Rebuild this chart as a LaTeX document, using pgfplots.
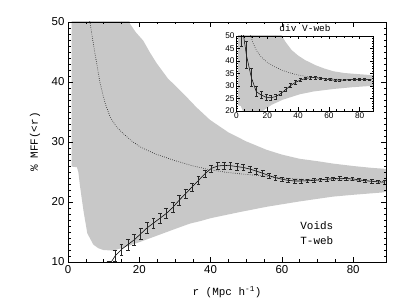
\documentclass[border=0pt]{standalone}
\usepackage{fontspec}
\setmainfont{Liberation Mono}
\setsansfont{Liberation Sans}
\usepackage{pgfplots}
\pgfplotsset{compat=1.18}
\definecolor{band}{RGB}{200,200,200}
\pgfplotsset{
  idl/.style={
    scale only axis, anchor=south west, tick align=inside, axis on top,
    axis line style={line width=0.7pt},
    every tick/.style={black, line width=0.5pt},
    /pgf/number format/assume math mode=true,
    clip=true,
  },
  dotline/.style={black!85, line width=0.65pt, dash pattern=on 0.65pt off 1.5pt},
  meanline/.style={black, line width=0.55pt, mark=none,
    error bars/y dir=both, error bars/y explicit,
    error bars/error bar style={line width=0.5pt, black!85},
    error bars/error mark=-,
    error bars/error mark options={rotate=90, line width=0.5pt, black!85, mark size=#1}},
  meanline/.default=1.9bp,
}
\begin{document}
\begin{tikzpicture}[x=1bp,y=1bp]
\useasboundingbox (0,0) rectangle (407,306);
% ---------------- main axis ----------------
\begin{axis}[idl, at={(68bp,44bp)}, width=318bp, height=240bp,
  xmin=0, xmax=89.2, ymin=10, ymax=50,
  xtick={0,20,...,80}, ytick={10,20,...,50},
  minor x tick num=3, minor y tick num=9,
  major tick length=5bp, minor tick length=2.5bp,
  ticklabel style={font=\sffamily\fontsize{11.5}{12}\selectfont},
  xlabel={r (Mpc h\textsuperscript{-1})}, ylabel={\% MFF(<r)},
  label style={font=\fontsize{11}{12}\selectfont},
  xlabel style={at={(axis description cs:0.5,-0.125)}, anchor=center},
  ylabel style={at={(axis description cs:-0.104,0.5)}, anchor=center},
]
\addplot[draw=none, fill=band] coordinates {
 (1,51) (17.0,51) (17.4,49.7) (19,48.3) (21.1,46.9) (23,44.9) (24.9,43.1) (28,40.6)
 (32.3,38.1) (36,35.8) (39.8,33.7) (45,31.6) (50,30.1) (55.7,28.7) (60,27.9) (65,27.2)
 (70,26.8) (74.4,26.4) (80,26) (85,25.7) (89.5,25.5)
 (89.5,21.8) (88.4,21.6) (80,21.2) (74.4,20.9) (65,20.1) (55.7,19.2) (48,18.3) (40,17.3)
 (37,16.8) (34.2,16.4) (30,15.5) (25,14.4) (20,13.3) (15,12.3) (12.7,11.9) (9.9,12.0)
 (8.5,12.3) (7.1,12.9) (6.2,13.9) (5.4,14.8) (4.3,18.7) (3.4,22.5) (2.9,25.0) (2.5,25.8)
 (1,25.9)} -- cycle;
\addplot[dotline] coordinates {
 (6.0,50.5) (6.2,49.8) (7.1,46.4) (8.05,43.1) (9.0,39.8) (10.4,36.5) (11.8,34.2) (13.5,32.6)
 (15.5,31.4) (17.8,30.2) (20.2,29.2) (24.5,28.0) (29.5,27.0) (34.5,26.1) (39.5,25.4)
 (45,24.9) (50,24.6) (55.7,24.3) (60,24.0) (65,23.8) (70,23.7) (75,23.7) (80,23.6)
 (85,23.5) (89.2,23.4)};
\addplot[meanline] table[x=r, y=m, y error=e] {
r m e
11.4 9.3 0.9
13.2 11.0 0.9
15.0 12.1 0.9
16.8 12.9 0.9
18.6 13.7 0.9
20.4 14.7 0.9
22.2 15.7 0.85
24.0 16.5 0.85
25.8 17.3 0.8
27.6 18.1 0.8
29.4 19.1 0.8
31.2 20.3 0.8
33.0 21.4 0.75
34.8 22.5 0.7
36.6 23.6 0.7
38.4 24.7 0.65
40.2 25.6 0.6
42.0 26.0 0.6
43.8 26.1 0.6
45.6 26.05 0.55
47.4 25.9 0.55
49.2 25.75 0.5
51.0 25.5 0.5
52.8 25.15 0.5
54.6 24.8 0.45
56.4 24.4 0.4
58.2 24.05 0.4
60.0 23.8 0.35
61.8 23.6 0.3
63.6 23.5 0.3
65.4 23.5 0.3
67.2 23.55 0.3
69.0 23.6 0.3
70.8 23.7 0.3
72.6 23.8 0.3
74.4 23.9 0.3
76.2 23.95 0.3
78.0 23.9 0.3
79.8 23.85 0.3
81.6 23.7 0.3
83.4 23.55 0.3
85.2 23.45 0.3
87.0 23.35 0.3
88.8 23.3 0.3
};
\node[anchor=west, font=\fontsize{11}{12}\selectfont] at (axis cs:64.2,16.0) {Voids};
\node[anchor=west, font=\fontsize{11}{12}\selectfont] at (axis cs:64.2,13.55) {T-web};
\end{axis}
% ---------------- inset ----------------
\begin{axis}[idl, at={(236.5bp,195bp)}, width=137bp, height=75bp,
  xmin=0, xmax=89, ymin=20, ymax=50,
  xtick={0,20,...,80}, ytick={20,25,...,50},
  minor x tick num=3, minor y tick num=4,
  major tick length=3.5bp, minor tick length=1.8bp,
  axis line style={line width=0.6pt},
  ticklabel style={font=\sffamily\fontsize{8.3}{9}\selectfont, inner sep=1.8pt},
  title={div V-web},
  title style={anchor=center, yshift=1.5bp, font=\fontsize{9.5}{10}\selectfont},
]
\addplot[draw=none, fill=band] coordinates {
 (1,52) (28,52) (28.5,51) (32,47.5) (35.8,44.4) (40,42.2) (44.5,40.4) (51,38.4) (57,37)
 (62.9,35.9) (70,35.2) (78,34.8) (86.7,34.4) (89.5,34.3)
 (89.5,30.1) (86.7,30) (75,29.5) (62.9,28.8) (50,27.8) (41.2,26.7) (30,24.5) (22.9,22.5)
 (17,20) (12,19) (5,19) (3.8,20.5) (2.8,22.0) (1,22.3)} -- cycle;
\addplot[dotline, line width=0.5pt] coordinates {
 (8.6,52) (9.5,49.5) (11,46.8) (13,44.2) (15.5,42.0) (18,40.5) (21,39.0) (25,37.6)
 (30,36.2) (35,35.2) (40,34.4) (45,33.9) (50,33.5) (55,33.2) (60,32.9) (70,32.6)
 (80,32.6) (89,32.5)};
\addplot[meanline=1.5bp, line width=0.5pt] table[x=r, y=m, y error=e] {
r m e
3.2 56 10
6.4 42.5 5.5
9.6 33.5 3.5
12.8 27.8 2.0
16.0 26.4 1.5
19.2 25.5 1.2
22.4 25.3 1.0
25.6 25.8 1.0
28.8 27.0 0.9
32.0 28.6 0.8
35.2 30.2 0.7
38.4 31.5 0.7
41.6 32.4 0.6
44.8 33.0 0.5
48.0 33.3 0.5
51.2 33.3 0.5
54.4 33.1 0.45
57.6 32.8 0.4
60.8 32.5 0.4
64.0 32.3 0.35
67.2 32.3 0.35
70.4 32.4 0.3
73.6 32.5 0.3
76.8 32.6 0.3
80.0 32.6 0.3
83.2 32.6 0.3
86.4 32.5 0.3
};
\end{axis}
\end{tikzpicture}
\end{document}
